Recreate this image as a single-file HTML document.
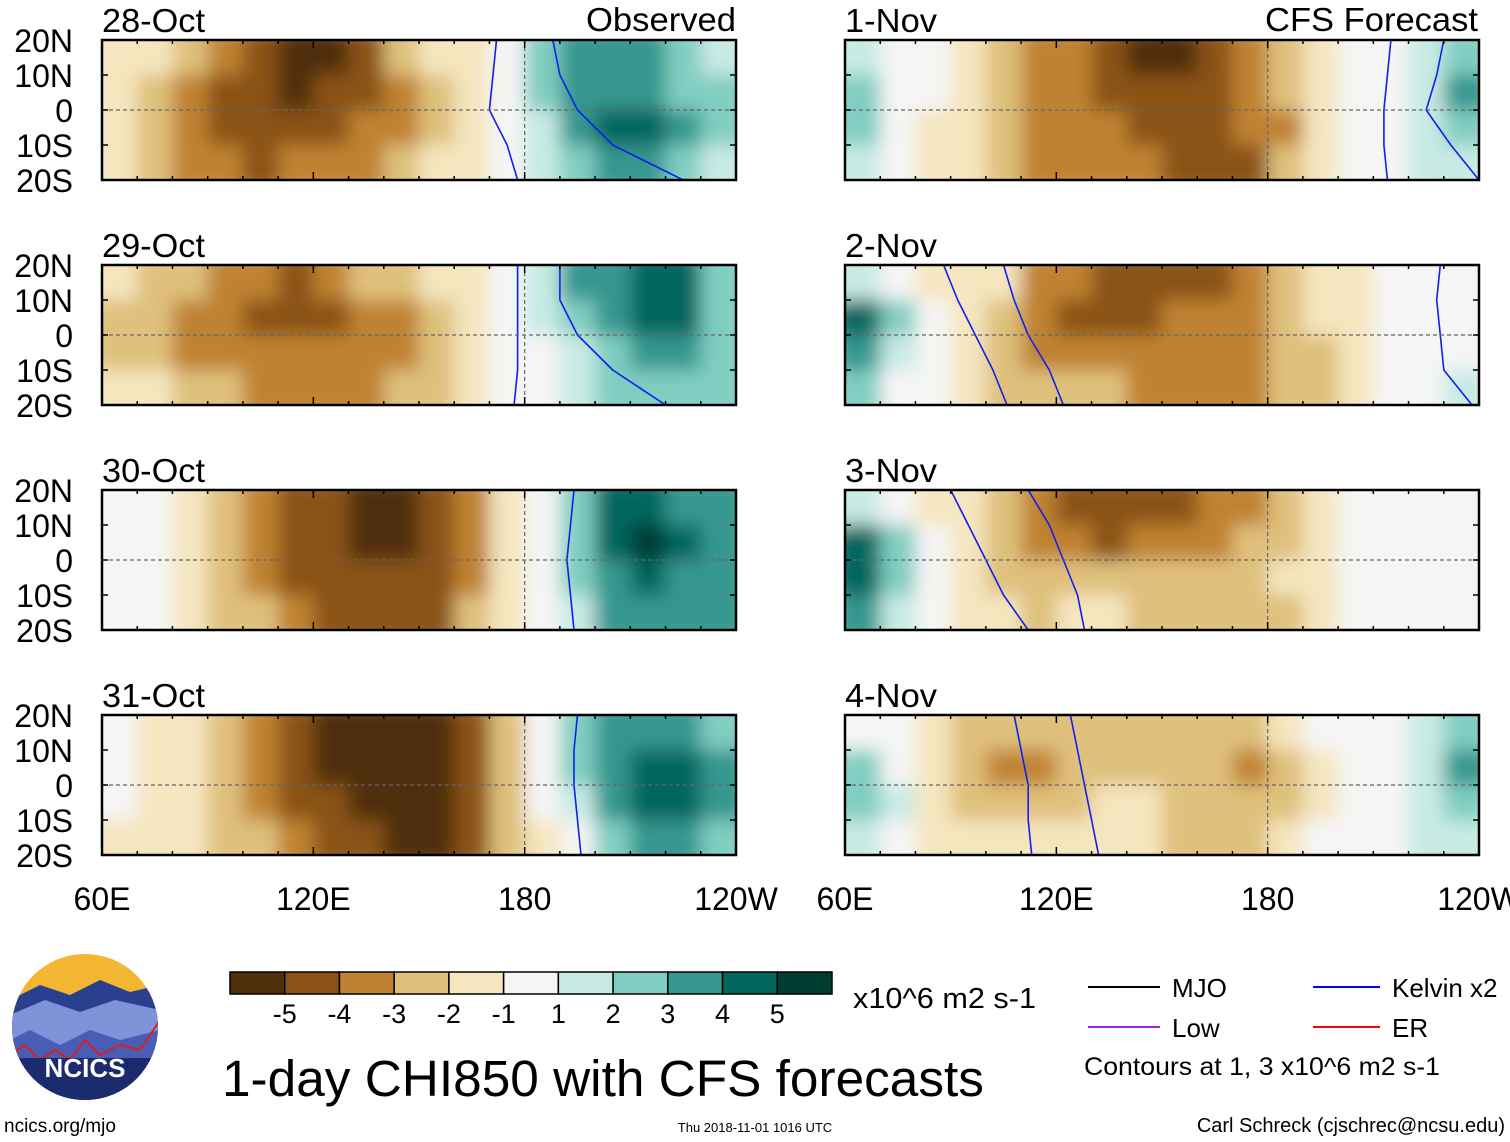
<!DOCTYPE html>
<html><head><meta charset="utf-8">
<style>
html,body{margin:0;padding:0;background:#fff;width:1510px;height:1142px;overflow:hidden;font-family:"Liberation Sans",Arial,sans-serif;}
svg text{font-family:"Liberation Sans",Arial,sans-serif;}
</style></head>
<body>
<svg id="fig" width="1510" height="1142" viewBox="0 0 1510 1142" xmlns="http://www.w3.org/2000/svg">
<defs>
<filter id="blur" x="-5%" y="-20%" width="110%" height="140%"><feGaussianBlur stdDeviation="9"/></filter>
</defs>
<g id="panels"></g>
<g id="legend"></g>
</svg>
<script>
// ---- data: CHI850 anomaly levels, 10-degree columns 60E..120W, rows 20N-10N,10N-0,0-10S,10S-20S
const panelTitles = ["28-Oct","29-Oct","30-Oct","31-Oct","1-Nov","2-Nov","3-Nov","4-Nov"];
const p28Oct = [[-1,-1,-2,-3,-4,-5,-5,-4,-2,-1,-1,0,2,3,3,3,2,1],[-1,-2,-3,-4,-4,-5,-4,-4,-3,-2,-1,0,2,3,3,3,2,2],[-1,-2,-3,-4,-4,-4,-4,-3,-3,-2,-1,0,1,3,4,4,3,2],[-1,-2,-3,-3,-4,-3,-3,-3,-2,-1,-1,0,1,2,3,3,2,1]];
const p29Oct = [[-1,-2,-2,-3,-3,-4,-3,-2,-2,-1,-1,0,1,3,3,4,4,2],[-2,-2,-3,-3,-4,-4,-4,-3,-3,-2,-1,0,1,2,3,4,4,2],[-2,-2,-3,-3,-3,-3,-3,-3,-3,-2,-1,0,0,1,2,3,3,2],[-1,-1,-2,-2,-3,-3,-3,-3,-2,-2,-1,0,0,1,2,2,2,2]];
const p30Oct = [[0,0,-1,-2,-3,-4,-4,-5,-5,-4,-3,-1,0,2,4,4,3,3],[0,0,-1,-2,-3,-4,-4,-5,-5,-4,-3,-1,0,2,4,5,4,3],[0,0,-1,-2,-3,-4,-4,-4,-4,-4,-3,-1,0,2,3,4,3,3],[0,0,-1,-2,-2,-3,-4,-4,-4,-4,-2,-1,0,1,3,3,3,3]];
const p31Oct = [[0,-1,-1,-2,-3,-4,-5,-5,-5,-5,-4,-2,0,2,3,3,3,2],[0,-1,-1,-2,-3,-4,-5,-5,-5,-5,-4,-2,0,2,3,4,4,3],[0,-1,-1,-2,-3,-4,-4,-5,-5,-5,-4,-2,0,1,3,4,4,3],[-1,-1,-1,-2,-2,-3,-4,-4,-5,-5,-4,-2,-1,0,2,3,3,2]];
const p1Nov = [[1,0,0,-1,-2,-3,-3,-4,-5,-5,-4,-3,-2,-1,0,0,1,2],[2,0,0,-1,-2,-3,-3,-4,-4,-4,-4,-3,-2,-1,0,0,1,3],[2,0,-1,-1,-2,-3,-3,-3,-4,-4,-4,-3,-3,-1,0,0,1,2],[1,0,-1,-1,-2,-3,-3,-3,-3,-4,-4,-4,-2,-1,0,0,1,1]];
const p2Nov = [[1,0,-1,-1,-1,-3,-3,-4,-4,-4,-4,-3,-2,-1,-1,0,0,0],[4,2,0,-1,-2,-3,-4,-4,-4,-3,-3,-3,-2,-1,-1,0,0,0],[3,1,0,-1,-2,-3,-3,-3,-3,-3,-3,-3,-2,-2,-1,0,0,0],[2,0,0,-1,-2,-2,-2,-2,-3,-3,-3,-3,-2,-2,-1,0,0,1]];
const p3Nov = [[1,0,-1,-1,-2,-3,-4,-4,-4,-4,-3,-3,-2,-1,0,0,0,0],[4,2,0,-1,-2,-3,-3,-4,-3,-3,-3,-2,-2,-1,0,0,0,0],[4,2,0,-1,-2,-2,-2,-2,-2,-2,-2,-2,-1,-1,0,0,0,0],[3,1,0,-1,-1,-2,-1,-1,-2,-2,-2,-2,-2,-1,0,0,0,0]];
const p4Nov = [[0,0,-1,-2,-2,-2,-2,-2,-2,-2,-2,-2,-1,0,0,0,1,2],[2,0,-1,-2,-3,-3,-2,-2,-2,-2,-2,-3,-2,-1,0,0,1,3],[2,1,-1,-2,-2,-2,-2,-1,-1,-2,-2,-2,-2,-1,0,0,1,2],[1,0,-1,-1,-1,-1,-1,-1,-1,-2,-2,-2,-1,0,0,0,1,1]];
const panelData = [p28Oct,p29Oct,p30Oct,p31Oct,p1Nov,p2Nov,p3Nov,p4Nov];
// Kelvin contour longitudes at lats 20N,10N,0,10S,20S
const kelvinLats = [20,10,0,-10,-20];
const kelvinLons = [
 [[172,171,170,175,178],[188,190,195,205,225]],
 [[178,178,178,178,177],[190,190,195,205,220]],
 [[194,193,192,193,194]],
 [[195,194,194,195,196]],
 [[215,214,213,213,214],[230,228,225,232,240]],
 [[88,92,97,102,106],[105,108,112,118,122],[229,228,229,230,238]],
 [[90,95,100,105,112],[112,118,122,126,128]],
 [[108,110,112,112,113],[124,126,128,130,132]]
];
const lonTicks = ["60E","120E","180","120W"];
const latTicks = ["20N","10N","0","10S","20S"];
const cbarLabels = ["-5","-4","-3","-2","-1","1","2","3","4","5"];
const levels = [-5,-4,-3,-2,-1,0,1,2,3,4,5];
const palette = ["#4f2f0a","#8a5214","#bf8233","#dfc07b","#f5e6bf","#f5f5f5","#c7eae4","#80cdc1","#35978f","#02665e","#013c30"];

const NS="http://www.w3.org/2000/svg";
function mk(tag,attrs,parent){const e=document.createElementNS(NS,tag);for(const k in attrs)e.setAttribute(k,attrs[k]);parent.appendChild(e);return e;}
function colorOf(v){return palette[levels.indexOf(v)];}
const panelsG=document.getElementById('panels');
const PW=634, PH=140;
const colX=[102,845], rowY=[40,265,490,715];
function xScale(x0,lon){return x0+(lon-60)/180*PW;}
function yScale(y0,lat){return y0+(20-lat)/40*PH;}

panelData.forEach((grid,i)=>{
  const x0=colX[Math.floor(i/4)], y0=rowY[i%4];
  const g=mk('g',{},panelsG);
  
  
  const cid='clip'+i;
  const cp=mk('clipPath',{id:cid},g); mk('rect',{x:x0,y:y0,width:PW,height:PH},cp);
  const cg=mk('g',{'clip-path':'url(#'+cid+')'},g);
  const fg=mk('g',{filter:'url(#blur)'},cg);
  grid.forEach((row,r)=>{
    row.forEach((v,c)=>{
      const lonA=60+c*10, latA=20-r*10;
      const xa=xScale(x0,lonA), xb=xScale(x0,lonA+10);
      const ya=yScale(y0,latA), yb=yScale(y0,latA-10);
      const ex = 12;
      const rc=mk('rect',{x:xa-(c==0?ex:0),y:ya-(r==0?ex:0),width:(xb-xa)+(c==0?ex:0)+(c==row.length-1?ex:0)+0.5,height:(yb-ya)+(r==0?ex:0)+(r==grid.length-1?ex:0)+0.5,fill:colorOf(v)},fg);
      
      
    });
  });
  // kelvin contours
  kelvinLons[i].forEach(line=>{
    const pts=line.map((lon,k)=>xScale(x0,lon).toFixed(1)+','+yScale(y0,kelvinLats[k]).toFixed(1)).join(' ');
    const pl=mk('polyline',{points:pts,fill:'none',stroke:'#1020ee','stroke-width':1.6,'stroke-linejoin':'round'},cg);
    
    
  });
  // dashed equator and 180
  mk('line',{x1:x0,x2:x0+PW,y1:yScale(y0,0),y2:yScale(y0,0),stroke:'#666','stroke-width':1.2,'stroke-dasharray':'4,3'},g);
  mk('line',{x1:xScale(x0,180),x2:xScale(x0,180),y1:y0,y2:y0+PH,stroke:'#666','stroke-width':1.2,'stroke-dasharray':'4,3'},g);
  const fr=mk('rect',{x:x0,y:y0,width:PW,height:PH,fill:'none',stroke:'#000','stroke-width':2.5},g);
  
  
  for(let lon=60;lon<=240;lon+=10){
    const x=xScale(x0,lon), L=(lon%60==0)?8:4;
    mk('line',{x1:x,x2:x,y1:y0,y2:y0+L,stroke:'#000','stroke-width':1.5},g);
    mk('line',{x1:x,x2:x,y1:y0+PH,y2:y0+PH-L,stroke:'#000','stroke-width':1.5},g);
  }
  for(let lat=-20;lat<=20;lat+=10){
    const y=yScale(y0,lat);
    mk('line',{x1:x0,x2:x0+6,y1:y,y2:y,stroke:'#000','stroke-width':1.5},g);
    mk('line',{x1:x0+PW,x2:x0+PW-6,y1:y,y2:y,stroke:'#000','stroke-width':1.5},g);
  }
  const t=mk('text',{x:x0,y:y0-8,'font-size':33,fill:'#000',textLength:(panelTitles[i].length>5?103:92),lengthAdjust:'spacingAndGlyphs'},g); t.textContent=panelTitles[i];
  
  
  if(i<4){
    latTicks.forEach((lb,k)=>{
      const tt=mk('text',{x:73,y:y0+k*35+12,'font-size':32,'text-anchor':'end',fill:'#000'},g); tt.textContent=lb;
      
      
    });
  }
  if(i%4==3){
    lonTicks.forEach((lb,k)=>{
      const tt=mk('text',{x:x0+k*PW/3,y:910,'font-size':32,'text-anchor':'middle',fill:'#000'},g); tt.textContent=lb;
      
      
    });
  }
});
[["Observed",736,150],["CFS Forecast",1478,213]].forEach(([s,x,w])=>{
  const t=mk('text',{x:x-w,y:31,'font-size':33,textLength:w,lengthAdjust:'spacingAndGlyphs'},panelsG); t.textContent=s;
  
  
});

const lg=document.getElementById('legend');
const cbW=602/11;
palette.forEach((c,k)=>{
  const r=mk('rect',{x:230+k*cbW,y:972,width:cbW,height:22,fill:c,stroke:'#000','stroke-width':1.5},lg);
  
  
});
cbarLabels.forEach((lb,k)=>{
  const t=mk('text',{x:230+(k+1)*cbW,y:1023,'font-size':27,'text-anchor':'middle'},lg); t.textContent=lb;
  
  
});
</script>
<svg width="1510" height="1142" style="position:absolute;left:0;top:0" xmlns="http://www.w3.org/2000/svg">
<text x="853" y="1008" font-size="29" textLength="183" lengthAdjust="spacingAndGlyphs">x10^6 m2 s-1</text>
<text x="222" y="1096" font-size="51" textLength="762" lengthAdjust="spacingAndGlyphs">1-day CHI850 with CFS forecasts</text>
<g>
<clipPath id="lc"><circle cx="85" cy="1027" r="73"/></clipPath>
<g clip-path="url(#lc)">
<rect x="10" y="950" width="150" height="160" fill="#f2b632"/>
<path d="M10 1000 L40 985 L70 995 L100 980 L130 992 L160 985 L160 1110 L10 1110Z" fill="#2b3f8f"/>
<path d="M10 1015 L45 1000 L80 1012 L115 1000 L160 1010 L160 1110 L10 1110Z" fill="#7f93d8"/>
<path d="M10 1040 L30 1030 L60 1045 L90 1030 L120 1040 L160 1030 L160 1110 L10 1110Z" fill="#4a5db5"/>
<path d="M10 1055 L25 1045 L40 1060 L55 1050 L70 1060 L85 1040 L100 1055 L120 1045 L140 1050 L160 1020" fill="none" stroke="#d62020" stroke-width="2"/>
<rect x="10" y="1058" width="150" height="60" fill="#1a2b6e"/>
</g>
<text x="85" y="1077" font-size="26" font-weight="bold" fill="#fff" text-anchor="middle">NCICS</text>
</g>
<text x="4" y="1132" font-size="19">ncics.org/mjo</text>
<text x="755" y="1132" font-size="13" text-anchor="middle">Thu 2018-11-01 1016 UTC</text>
<text x="1505" y="1132" font-size="20" text-anchor="end">Carl Schreck (cjschrec@ncsu.edu)</text>
<g><line x1="1088" x2="1160" y1="987" y2="987" stroke="#000" stroke-width="2"/><text x="1172" y="997" font-size="26">MJO</text></g>
<g><line x1="1313" x2="1380" y1="987" y2="987" stroke="#0000ff" stroke-width="2"/><text x="1392" y="997" font-size="26">Kelvin x2</text></g>
<g><line x1="1088" x2="1160" y1="1027" y2="1027" stroke="#a020f0" stroke-width="2"/><text x="1172" y="1037" font-size="26">Low</text></g>
<g><line x1="1313" x2="1380" y1="1027" y2="1027" stroke="#ff0000" stroke-width="2"/><text x="1392" y="1037" font-size="26">ER</text></g>
<text x="1084" y="1075" font-size="25" textLength="356" lengthAdjust="spacingAndGlyphs">Contours at 1, 3 x10^6 m2 s-1</text>
</svg>
</body></html>
